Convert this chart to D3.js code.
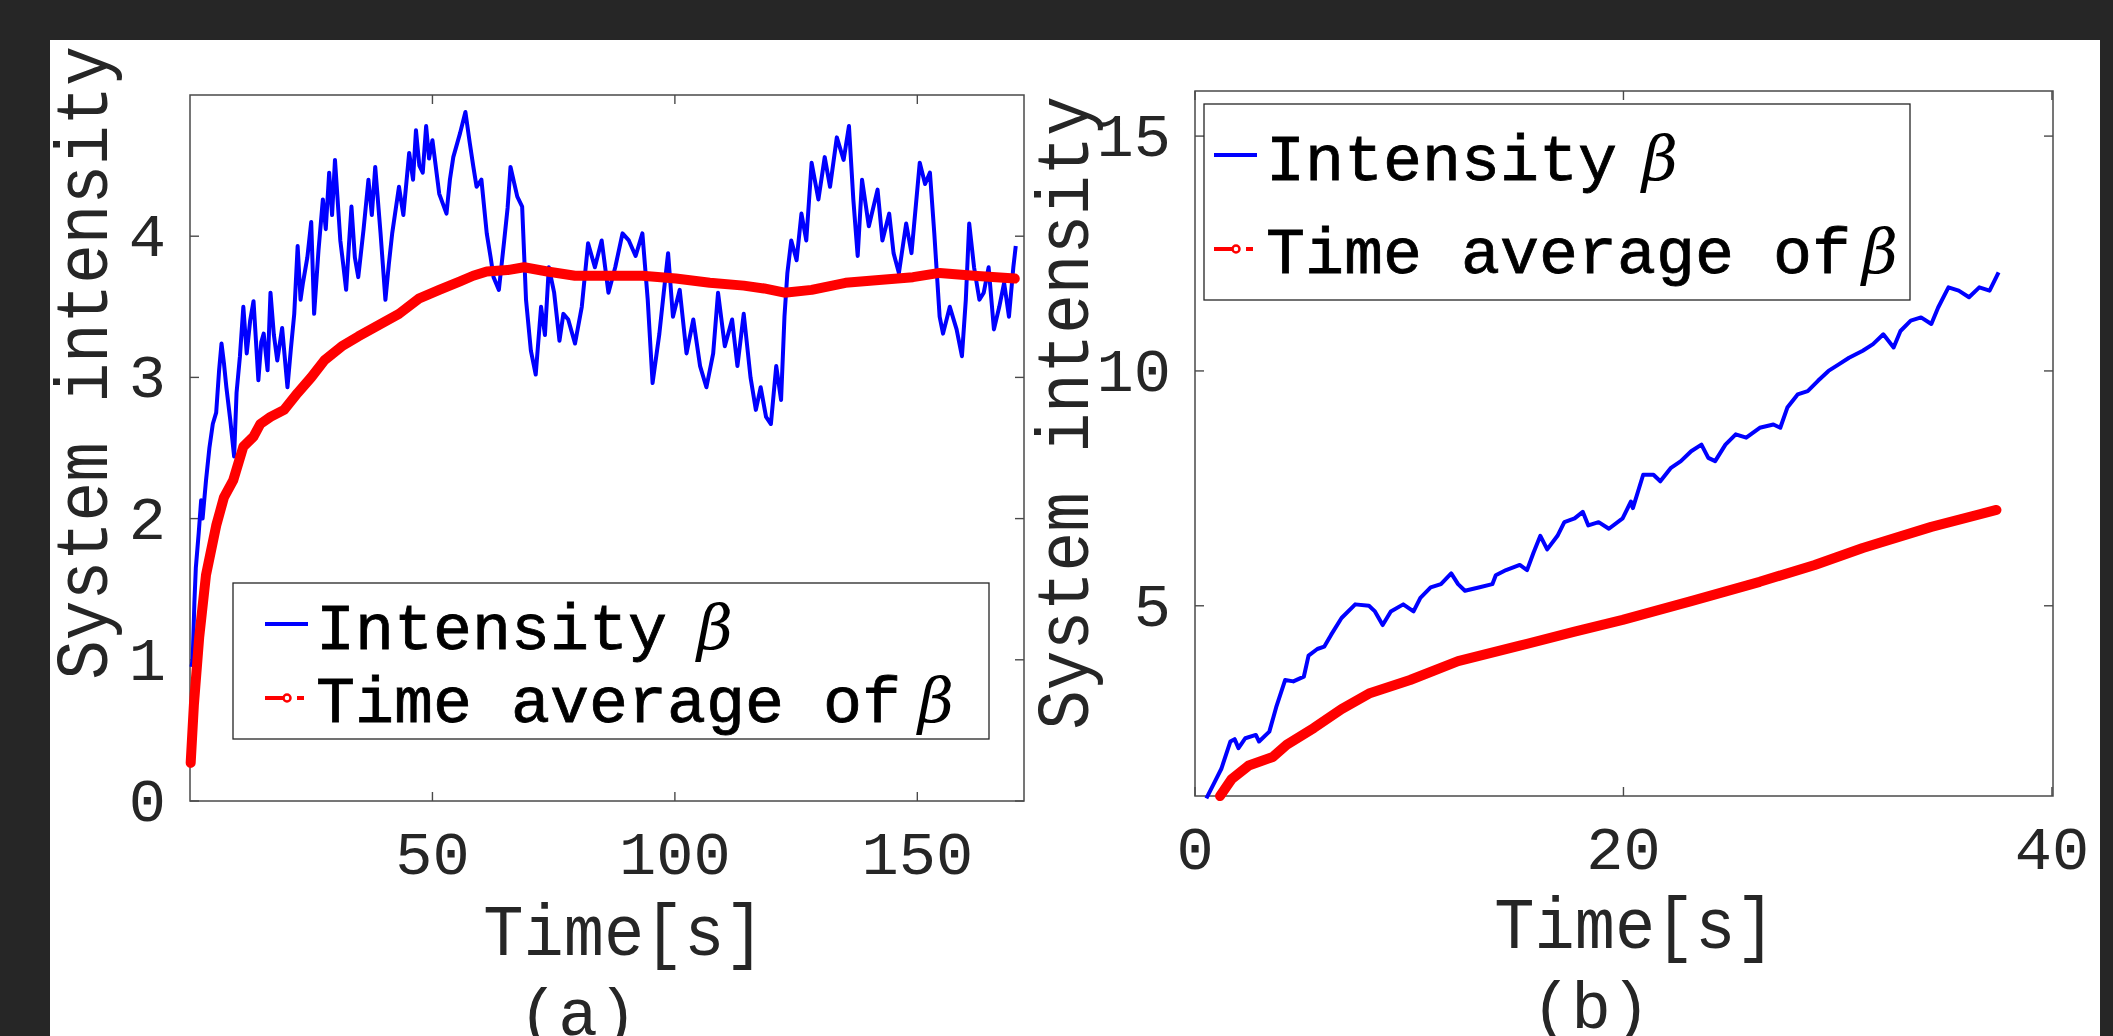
<!DOCTYPE html>
<html><head><meta charset="utf-8">
<script src="https://cdn.jsdelivr.net/npm/d3@7"></script>
<style>html,body{margin:0;padding:0;background:#262626;overflow:hidden}</style>
</head><body>
<svg id="c" width="2113" height="1036"></svg>
<script>
// ---------- DATA ----------
// Panel (a): intensity beta vs time
const aBlueT = [0.3,0.55,0.9,1.2,1.8,2.3,2.6,3.3,4.0,4.7,5.4,6.0,6.5,7.0,7.5,8.3,9.1,9.6,10.3,11.0,11.7,12.4,13.1,14.1,14.7,15.2,16.0,16.6,17.3,18.0,19.0,20.1,20.8,21.5,22.2,22.8,23.3,24.2,25.0,25.6,26.5,27.4,28.0,28.7,29.3,29.9,31.0,31.6,32.2,32.8,33.3,34.0,34.7,35.8,36.8,37.5,38.2,39.3,40.3,41.0,41.7,43.1,44.0,45.2,46.0,46.6,47.3,48.0,48.7,49.3,50.0,51.4,52.9,53.6,54.3,55.7,56.8,57.7,58.4,59.1,60.1,61.2,62.0,62.6,63.7,64.8,65.5,66.1,67.5,68.5,69.3,70.3,71.3,72.4,73.2,74.0,75.1,76.2,77.0,78.0,79.4,80.8,82.1,83.5,84.9,86.3,87.7,89.2,90.5,91.9,93.3,94.4,95.4,96.8,97.7,98.6,99.6,101.0,102.4,103.8,105.2,106.5,107.9,108.9,110.3,111.8,112.9,114.2,115.6,116.7,117.7,118.8,119.8,120.9,121.9,122.6,123.2,124.0,125.1,126.1,127.1,128.2,129.6,130.9,132.0,133.4,134.8,135.9,136.8,137.7,138.6,140.0,141.8,142.8,144.2,145.1,146.2,147.7,148.8,150.5,151.6,152.6,153.5,154.6,155.3,156.7,158.1,159.2,160.0,160.7,161.7,162.8,163.7,164.7,165.8,166.9,167.9,168.9,169.8,170.3];
const aBlueV = [0.95,1.0,1.4,1.65,1.9,2.13,2.0,2.27,2.5,2.67,2.75,3.05,3.24,3.1,2.93,2.70,2.44,2.89,3.15,3.50,3.17,3.40,3.54,2.98,3.25,3.31,3.05,3.60,3.30,3.12,3.35,2.93,3.20,3.45,3.93,3.55,3.67,3.85,4.10,3.45,3.90,4.26,4.05,4.45,4.15,4.54,3.97,3.80,3.62,3.95,4.21,3.85,3.71,4.05,4.40,4.15,4.49,4.02,3.55,3.80,4.02,4.35,4.15,4.59,4.40,4.75,4.50,4.45,4.78,4.55,4.68,4.30,4.16,4.40,4.56,4.73,4.88,4.66,4.50,4.35,4.40,4.02,3.85,3.71,3.62,3.97,4.20,4.49,4.28,4.21,3.55,3.19,3.02,3.50,3.30,3.78,3.60,3.26,3.45,3.41,3.24,3.50,3.95,3.78,3.97,3.60,3.78,4.02,3.97,3.86,4.02,3.55,2.96,3.31,3.60,3.88,3.43,3.62,3.17,3.41,3.08,2.93,3.17,3.60,3.22,3.41,3.08,3.45,3.00,2.77,2.93,2.72,2.67,3.08,2.84,3.43,3.74,3.97,3.83,4.16,3.97,4.52,4.26,4.56,4.35,4.70,4.54,4.78,4.26,3.86,4.40,4.07,4.33,3.97,4.16,3.88,3.74,4.09,3.88,4.52,4.37,4.45,4.02,3.43,3.31,3.50,3.34,3.15,3.55,4.09,3.78,3.55,3.60,3.78,3.34,3.50,3.67,3.43,3.78,3.93];
const aRedT = [0.14,0.8,1.9,3.3,5.4,7.0,8.9,11.0,13.1,14.5,16.6,19.4,22.2,25.0,27.7,31.3,34.7,38.9,43.1,47.3,51.4,55.7,58.4,61.2,65.5,68.9,73.7,79.4,86.3,93.3,100.2,107.2,114.2,118.4,122.6,128.2,135.2,142.1,149.1,154.6,161.7,170.1];
const aRedV = [0.27,0.68,1.16,1.6,1.95,2.15,2.27,2.51,2.58,2.67,2.72,2.77,2.89,3.0,3.12,3.22,3.29,3.37,3.45,3.56,3.62,3.68,3.72,3.75,3.76,3.78,3.75,3.72,3.72,3.72,3.70,3.67,3.65,3.63,3.60,3.62,3.67,3.69,3.71,3.74,3.72,3.70];
// Panel (b)
const bBlueT = [0.53,0.91,1.23,1.65,1.85,2.03,2.35,2.84,2.99,3.47,3.79,4.21,4.59,5.08,5.30,5.71,6.03,6.35,6.84,7.48,8.12,8.4,8.76,9.14,9.72,10.2,10.52,11.0,11.48,11.96,12.28,12.6,13.24,13.88,14.04,14.52,15.16,15.5,15.8,16.12,16.44,16.92,17.24,17.72,18.1,18.36,18.84,19.32,19.96,20.35,20.44,20.92,21.4,21.72,22.2,22.68,23.16,23.64,23.96,24.28,24.76,25.24,25.73,26.36,27.0,27.32,27.65,28.13,28.6,29.08,29.57,30.05,30.53,31.17,31.65,32.13,32.61,32.93,33.41,33.89,34.37,34.69,35.17,35.65,36.13,36.61,37.09,37.51];
const bBlueV = [0.9,1.24,1.53,2.11,2.16,1.97,2.18,2.25,2.11,2.32,2.84,3.42,3.39,3.49,3.94,4.08,4.13,4.38,4.74,5.03,5.0,4.88,4.59,4.88,5.03,4.88,5.17,5.39,5.46,5.69,5.46,5.32,5.39,5.46,5.65,5.76,5.87,5.76,6.13,6.49,6.20,6.49,6.78,6.86,7.00,6.71,6.78,6.64,6.86,7.22,7.08,7.79,7.79,7.65,7.93,8.08,8.29,8.43,8.15,8.08,8.43,8.65,8.58,8.79,8.86,8.79,9.22,9.50,9.57,9.79,10.0,10.14,10.28,10.43,10.57,10.78,10.50,10.85,11.07,11.14,11.0,11.35,11.78,11.71,11.57,11.78,11.71,12.1];
const bRedT = [1.17,1.71,2.51,3.63,4.28,5.55,6.84,8.12,10.04,12.28,15.16,17.72,19.96,23.16,26.36,28.93,31.17,34.37,37.41];
const bRedV = [0.95,1.31,1.60,1.78,2.04,2.40,2.80,3.13,3.42,3.82,4.15,4.45,4.70,5.10,5.51,5.87,6.23,6.68,7.04];
// Ticks & labels
const aXTicks = [50,100,150];
const aYTicks = [0,1,2,3,4];
const bXTicks = [0,20,40];
const bYTicks = [5,10,15];
const yLabel = "System intensity";
const xLabel = "Time[s]";
const legendNames = ["Intensity", "Time average of"];
const panelTags = ["(a)", "(b)"];

// ---------- DRAW ----------
const svg = d3.select("#c");
svg.append("rect").attr("x",0).attr("y",0).attr("width",2113).attr("height",1036).attr("fill","#262626");
svg.append("rect").attr("x",50).attr("y",40).attr("width",2050).attr("height",996).attr("fill","#ffffff");

const MONO = "'Liberation Mono','Courier New',monospace";
const TXT = "#262626";

function panel(cfg){
  const x = d3.scaleLinear().domain(cfg.xDom).range([cfg.L, cfg.R]);
  const y = d3.scaleLinear().domain(cfg.yDom).range([cfg.B, cfg.T]);
  const g = svg.append("g");
  const tl = 9;
  const ax = g.append("g").attr("stroke","#4a4a4a").attr("stroke-width",1.4);
  cfg.xTicks.forEach(t=>{
    ax.append("line").attr("x1",x(t)).attr("x2",x(t)).attr("y1",cfg.B).attr("y2",cfg.B-tl);
    ax.append("line").attr("x1",x(t)).attr("x2",x(t)).attr("y1",cfg.T).attr("y2",cfg.T+tl);
  });
  cfg.yTicks.forEach(t=>{
    ax.append("line").attr("x1",cfg.L).attr("x2",cfg.L+tl).attr("y1",y(t)).attr("y2",y(t));
    ax.append("line").attr("x1",cfg.R).attr("x2",cfg.R-tl).attr("y1",y(t)).attr("y2",y(t));
  });
  g.append("rect").attr("x",cfg.L).attr("y",cfg.T).attr("width",cfg.R-cfg.L).attr("height",cfg.B-cfg.T)
    .attr("fill","none").attr("stroke","#4a4a4a").attr("stroke-width",1.5);
  cfg.xTicks.forEach(t=>{
    g.append("text").attr("x",x(t)).attr("y",cfg.B+73).attr("text-anchor","middle")
      .attr("font-family",MONO).attr("font-size",62).attr("fill",TXT).text(t);
  });
  cfg.yTicks.forEach(t=>{
    g.append("text").attr("x",cfg.L-24).attr("y",y(t)+20).attr("text-anchor","end")
      .attr("font-family",MONO).attr("font-size",62).attr("fill",TXT).text(t);
  });
  const line = d3.line().x(d=>x(d[0])).y(d=>y(d[1]));
  g.append("path").datum(d3.zip(cfg.blueT,cfg.blueV)).attr("d",line)
    .attr("fill","none").attr("stroke","#0000ff").attr("stroke-width",4)
    .attr("stroke-linejoin","round");
  g.append("path").datum(d3.zip(cfg.redT,cfg.redV)).attr("d",line)
    .attr("fill","none").attr("stroke","#ff0000").attr("stroke-width",10)
    .attr("stroke-linecap","round").attr("stroke-linejoin","round");
  g.append("text").attr("transform",`translate(${cfg.xlx},${cfg.xly}) scale(1,1.08)`)
    .attr("text-anchor","middle").attr("font-family",MONO).attr("font-size",67).attr("fill",TXT).text(xLabel);
  g.append("text").attr("transform",`translate(${cfg.ylx},${cfg.yly}) rotate(-90) scale(1,1.12)`)
    .attr("text-anchor","middle").attr("font-family",MONO).attr("font-size",66).attr("fill",TXT).text(yLabel);
  g.append("text").attr("x",cfg.tagx).attr("y",cfg.tagy).attr("text-anchor","middle")
    .attr("font-family",MONO).attr("font-size",66).attr("fill",TXT).text(cfg.tag);
  const lg = cfg.leg;
  g.append("rect").attr("x",lg.x0).attr("y",lg.y0).attr("width",lg.x1-lg.x0).attr("height",lg.y1-lg.y0)
    .attr("fill","#fff").attr("stroke","#262626").attr("stroke-width",1.3);
  [0,1].forEach(i=>{
    const by = lg.base[i];
    g.append("text").attr("x",lg.tx).attr("y",by).attr("font-family",MONO).attr("font-size",65)
      .attr("fill","#000").attr("stroke","#000").attr("stroke-width",0.8).text(legendNames[i]);
    g.append("text").attr("x",lg.bx[i]).attr("y",by).attr("font-family","'DejaVu Serif','Liberation Serif',serif")
      .attr("font-style","italic").attr("font-size",62).attr("fill","#000").text("β");
  });
  const sy0 = lg.base[0]-25, sy1 = lg.base[1]-24;
  g.append("line").attr("x1",lg.sx0).attr("x2",lg.sx0+43).attr("y1",sy0).attr("y2",sy0)
    .attr("stroke","#0000ff").attr("stroke-width",4);
  g.append("line").attr("x1",lg.sx0).attr("x2",lg.sx0+18).attr("y1",sy1).attr("y2",sy1)
    .attr("stroke","#ff0000").attr("stroke-width",4);
  g.append("circle").attr("cx",lg.sx0+22).attr("cy",sy1).attr("r",3.5)
    .attr("fill","none").attr("stroke","#ff0000").attr("stroke-width",2.5);
  g.append("line").attr("x1",lg.sx0+32).attr("x2",lg.sx0+39).attr("y1",sy1).attr("y2",sy1)
    .attr("stroke","#ff0000").attr("stroke-width",4);
}

panel({L:190,R:1024,T:95,B:801,xDom:[0,172],yDom:[0,5],xTicks:aXTicks,yTicks:aYTicks,
  blueT:aBlueT,blueV:aBlueV,redT:aRedT,redV:aRedV,
  xlx:624,xly:955,ylx:107,yly:363,tag:panelTags[0],tagx:578,tagy:1035,
  leg:{x0:233,y0:583,x1:989,y1:739,tx:316,base:[649,722],bx:[697,918],sx0:265}});
panel({L:1195,R:2053,T:91,B:796,xDom:[0,40.05],yDom:[0.95,15.96],xTicks:bXTicks,yTicks:bYTicks,
  blueT:bBlueT,blueV:bBlueV,redT:bRedT,redV:bRedV,
  xlx:1635,xly:948,ylx:1088,yly:413,tag:panelTags[1],tagx:1591,tagy:1028,
  leg:{x0:1204,y0:104,x1:1910,y1:300,tx:1266,base:[180,273],bx:[1642,1862],sx0:1214}});
</script>
</body></html>
